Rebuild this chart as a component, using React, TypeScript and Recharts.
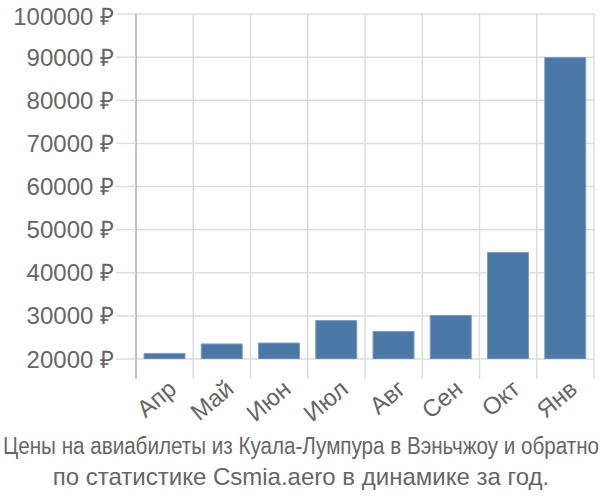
import { Bar, BarChart, CartesianGrid, XAxis, YAxis } from "recharts";

const months = ["Апр", "Май", "Июн", "Июл", "Авг", "Сен", "Окт", "Янв"];
const prices = [21300, 23500, 23700, 28900, 26400, 30100, 44700, 89900];
const yTicks = [20000, 30000, 40000, 50000, 60000, 70000, 80000, 90000, 100000];
const titleLines = [
  "Цены на авиабилеты из Куала-Лумпура в Вэньчжоу и обратно",
  "по статистике Csmia.aero в динамике за год.",
];

const data = months.map((month, i) => ({ month, price: prices[i] }));

const FONT = "'Liberation Sans', Arial, sans-serif";
const GRID = "#dddddd";
const AXIS = "#aaaaaa";
const TEXT = "#666666";
const TICK = 20;
const GAP = 2;

function MonthTick(props: any) {
  const { x, y, payload, index } = props;
  const axisY = y - TICK - GAP;
  const left = x - payload.offset;
  const right = x + payload.offset;
  const tx = x + 2;
  const ty = y - 3;
  return (
    <g>
      <line x1={left} x2={left} y1={axisY} y2={axisY + TICK} stroke={index === 0 ? AXIS : GRID} strokeWidth={1.5} />
      {index === months.length - 1 && (
        <line x1={right} x2={right} y1={axisY} y2={axisY + TICK} stroke={GRID} strokeWidth={1.5} />
      )}
      <text
        x={tx}
        y={ty}
        textAnchor="end"
        dominantBaseline="hanging"
        transform={`rotate(-40, ${tx}, ${ty})`}
        fill={TEXT}
        fontSize={24}
        fontFamily={FONT}
      >
        {payload.value}
      </text>
    </g>
  );
}

export default function App() {
  return (
    <div style={{ position: "absolute", left: 0, top: 0, width: 600, height: 500, background: "#fff" }}>
      <BarChart width={600} height={500} data={data} margin={{ top: 14, right: 6, left: 0, bottom: 61 }} barCategoryGap="14%">
        <CartesianGrid
          stroke={GRID}
          strokeWidth={1.5}
          verticalCoordinatesGenerator={({ offset }: any) =>
            months.map((_, i) => offset.left + ((i + 1) * offset.width) / months.length)
          }
        />
        <XAxis
          dataKey="month"
          height={80}
          tickLine={false}
          axisLine={false}
          tickSize={TICK}
          tickMargin={GAP}
          interval={0}
          tick={<MonthTick />}
        />
        <YAxis
          width={136}
          domain={[20000, 100000]}
          ticks={yTicks}
          allowDataOverflow
          tickFormatter={(v: number) => `${v} ₽`}
          tick={{ fill: TEXT, fontSize: 24, fontFamily: FONT }}
          tickSize={TICK}
          tickMargin={GAP}
          tickLine={{ stroke: GRID, strokeWidth: 1.5 }}
          axisLine={{ stroke: AXIS, strokeWidth: 1.5 }}
        />
        <Bar dataKey="price" fill="#4c78a8" stroke="#7a9cc4" strokeWidth={1} isAnimationActive={false} />
      </BarChart>
      <svg width={600} height={500} style={{ position: "absolute", left: 0, top: 0, pointerEvents: "none" }}>
        <text x={301} y={454} textAnchor="middle" fill={TEXT} fontSize={23} fontFamily={FONT} textLength={596} lengthAdjust="spacingAndGlyphs">
          {titleLines[0]}
        </text>
        <text x={301} y={485} textAnchor="middle" fill={TEXT} fontSize={24} fontFamily={FONT}>
          {titleLines[1]}
        </text>
      </svg>
    </div>
  );
}
